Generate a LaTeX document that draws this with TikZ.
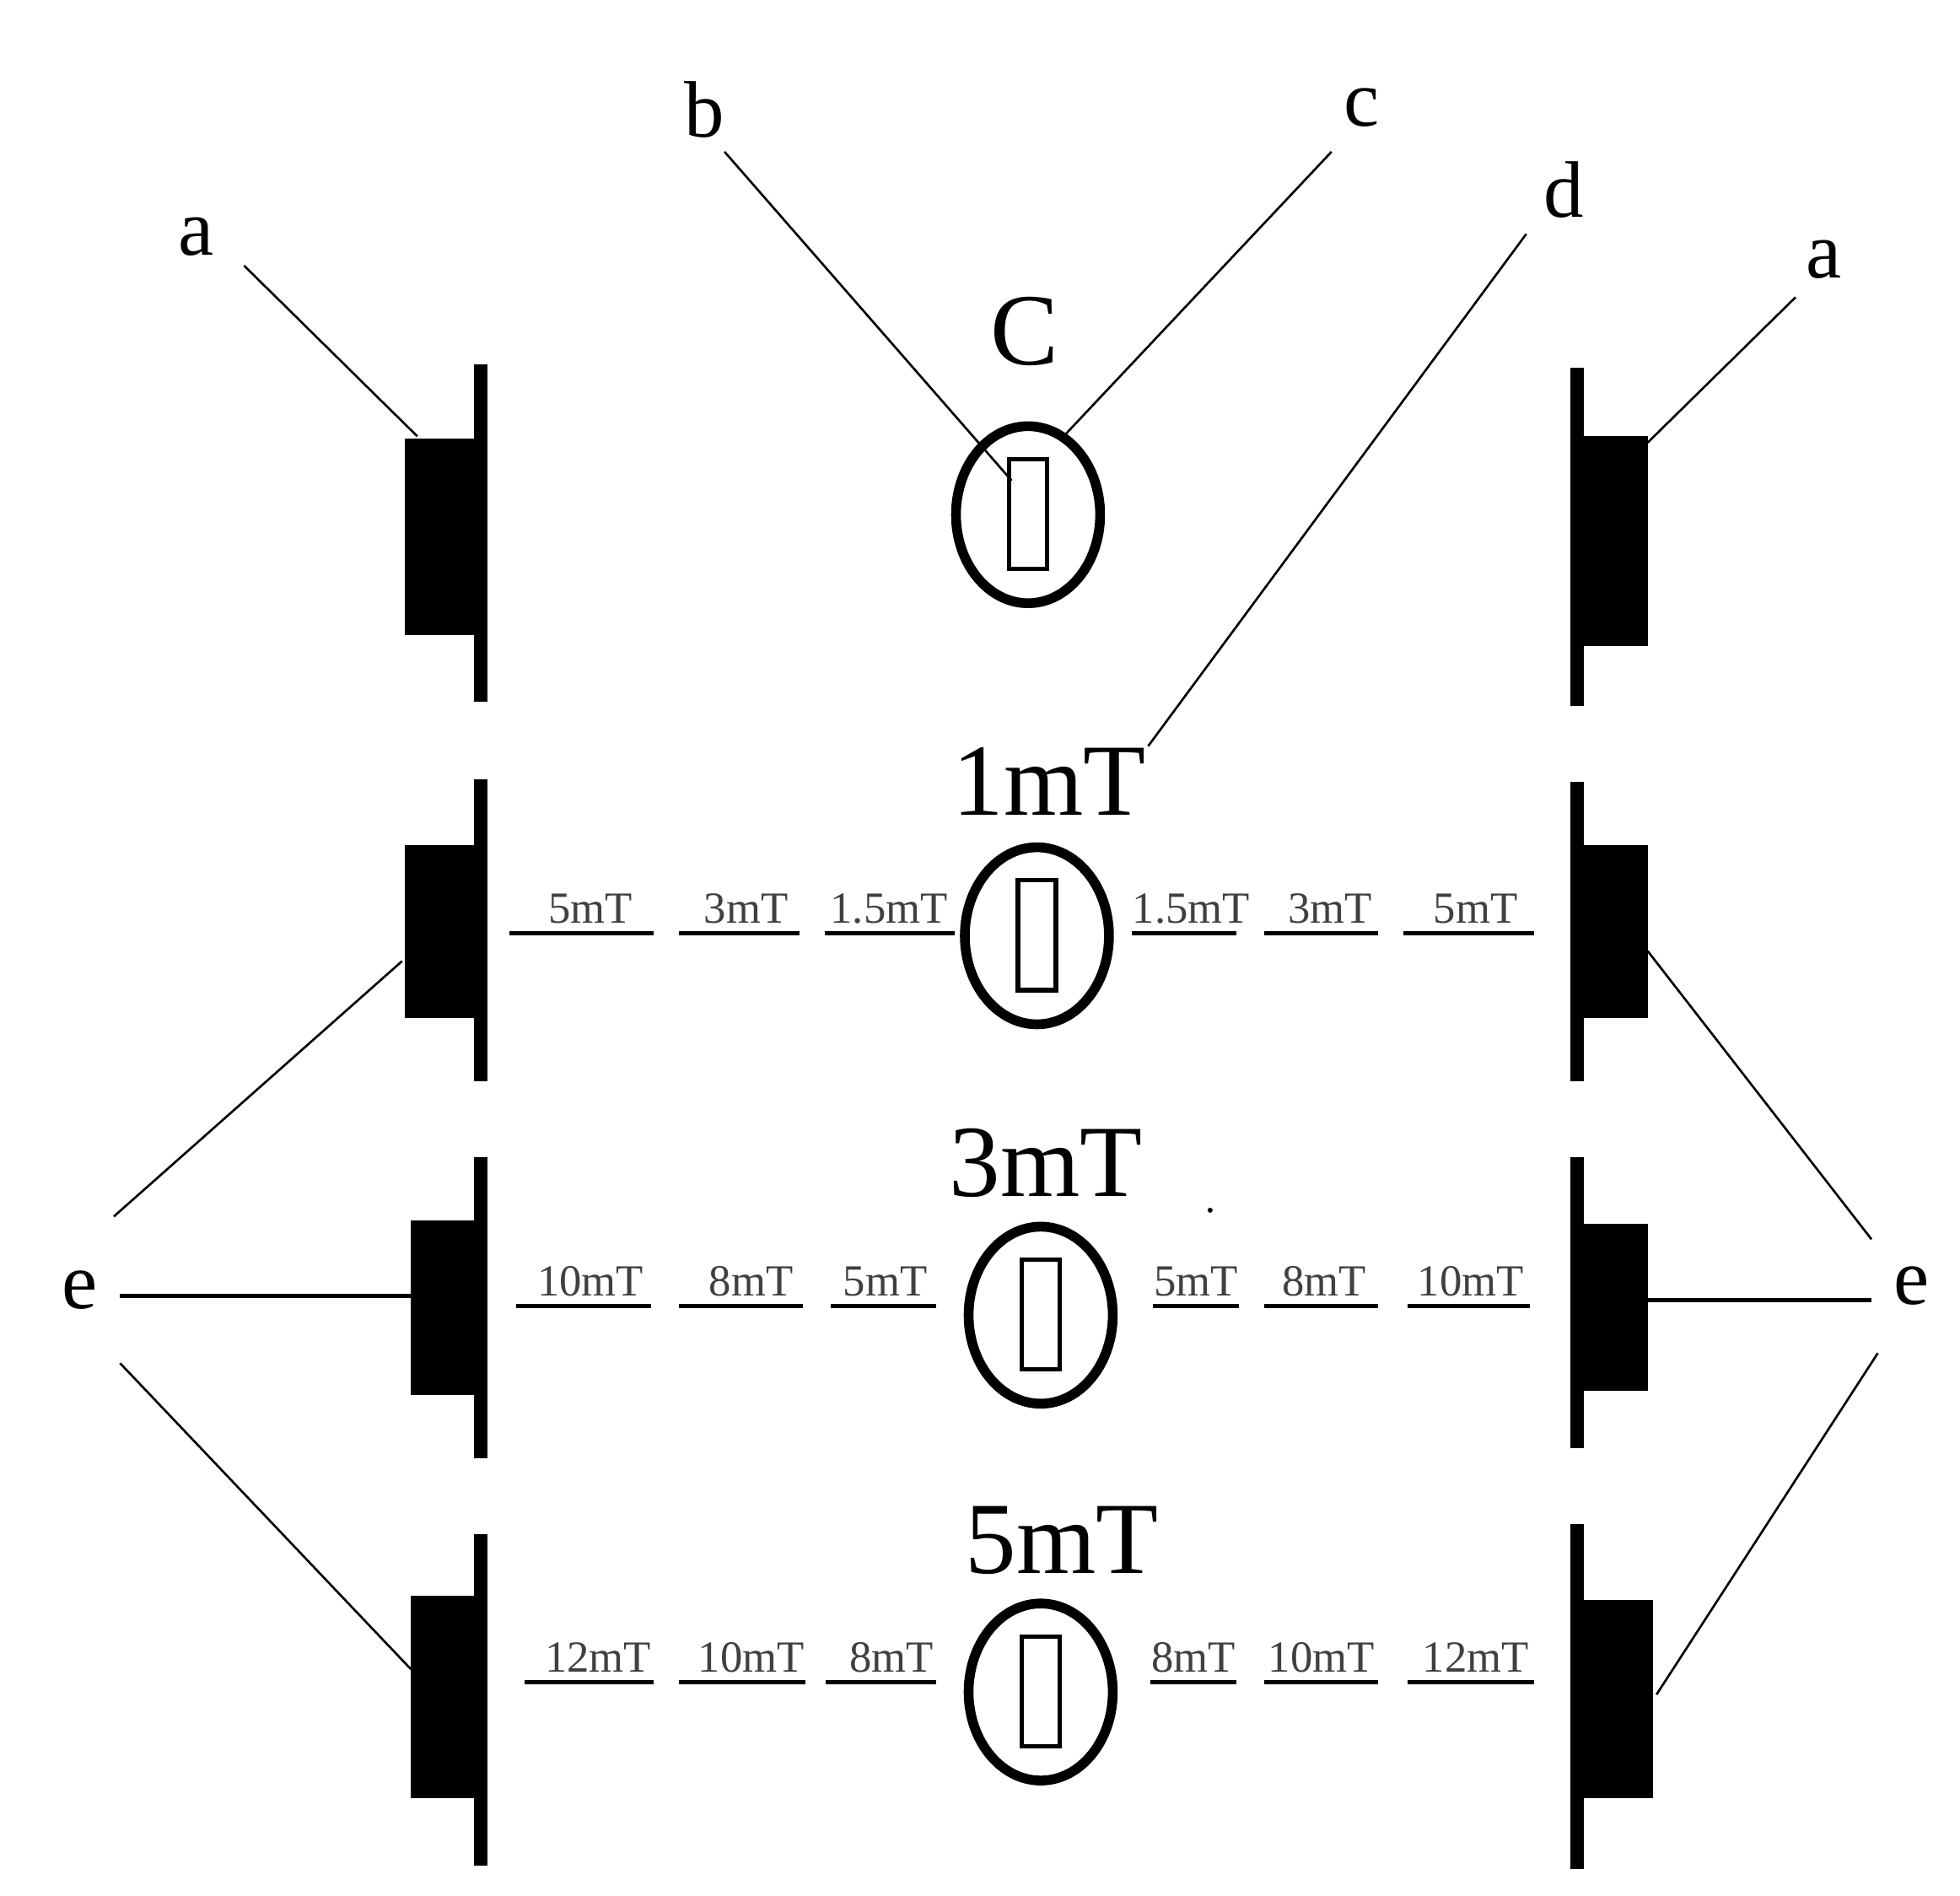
\documentclass[tikz,border=0pt]{standalone}
\usepackage{fontspec}
\setmainfont{Liberation Serif}
\begin{document}
\begin{tikzpicture}[x=0.01cm,y=-0.01cm,
 lbl/.style={font=\fontsize{18}{18}\selectfont,inner sep=1pt},
 big/.style={font=\fontsize{23}{23}\selectfont,inner sep=0pt},
 sm/.style={font=\fontsize{10}{10}\selectfont,inner sep=1pt,text=black!75},
 lead/.style={line width=0.5pt},
 ul/.style={line width=0.9pt},
 bar/.style={line width=3pt},
 cell/.style={ellipse,draw,line width=2.2pt,minimum width=116\pgflinewidth,inner sep=0pt}]
\useasboundingbox (0,0) rectangle (1550,1499);
% magnets
\foreach \n/\ya/\yb/\bx/\by/\bz/\ra/\rb/\cx/\cy/\cz in {0/288/555/320/347/502/291/558/1303/345/511,
  1/616/855/320/668/805/618/855/1303/668/805,
  2/915/1153/325/965/1103/915/1145/1303/968/1100,
  3/1213/1475/325/1262/1422/1205/1478/1307/1265/1422}{
  \fill (\bx,\by) rectangle (380,\bz);
  \draw[bar] (380,\ya) -- (380,\yb);
  \fill (1247,\cy) rectangle (\cx,\cz);
  \draw[bar] (1247,\ra) -- (1247,\rb);
}
% cells
\foreach \n/\x/\y in {0/813/407,1/820/740,2/823/1040,3/823/1338}{
  \draw[line width=2.2pt] (\x,\y) ellipse [x radius=57, y radius=70];
  \draw[line width=1pt] (\x-15,\y-44) rectangle (\x+15,\y+43);
}
% titles
\node[big] (C) at (810,262) {C};
\node[big] (t1) at (830,618) {1mT};
\node[big] (t2) at (827,920) {3mT};
\node[big] (t3) at (840,1218) {5mT};
% letter labels
\node[lbl] (a1) at (155,187) {a};
\node[lbl] (b) at (557,87) {b};
\node[lbl] (c) at (1077,85) {c};
\node[lbl] (d) at (1237,150) {d};
\node[lbl] (a2) at (1442,205) {a};
\node[lbl] (e1) at (63,1020) {e};
\node[lbl] (e2) at (1512,1017) {e};
\coordinate (pa1) at (330,345); \coordinate (pb) at (800,380);
\coordinate (pc) at (843,343); \coordinate (pd) at (908,590);
\coordinate (pa2) at (1303,350);
\draw[lead] (193,210) -- (pa1);
\draw[lead] (573,120) -- (pb);
\draw[lead] (1053,120) -- (pc);
\draw[lead] (1207,185) -- (pd);
\draw[lead] (1420,235) -- (pa2);
\coordinate (l1) at (318,760); \coordinate (l2) at (325,1025); \coordinate (l3) at (325,1320);
\coordinate (r1) at (1303,752); \coordinate (r2) at (1303,1028); \coordinate (r3) at (1310,1340);
\draw[lead] (90,962) -- (l1);
\draw[lead,line width=1pt] (95,1025) -- (l2);
\draw[lead] (95,1078) -- (l3);
\draw[lead] (1480,980) -- (r1);
\draw[lead,line width=1pt] (1480,1028) -- (r2);
\draw[lead] (1485,1070) -- (r3);
% scale labels
\foreach \t/\x/\a/\b/\y in {5mT/467/403/517/738, 3mT/590/537/632/738, 1.5mT/703/652/755/738,
 1.5mT/942/895/978/738, 3mT/1052/1000/1090/738, 5mT/1167/1110/1213/738,
 10mT/467/408/515/1033, 8mT/594/537/635/1033, 5mT/700/657/740/1033,
 5mT/946/912/980/1033, 8mT/1047/1000/1090/1033, 10mT/1163/1113/1210/1033,
 12mT/473/415/517/1330, 10mT/594/537/637/1330, 8mT/705/653/740/1330,
 8mT/944/910/978/1330, 10mT/1045/1000/1090/1330, 12mT/1167/1113/1213/1330}{
  \node[sm,anchor=base] at (\x,\y-8) {\t};
  \draw[ul] (\a,\y) -- (\b,\y);
}
\fill (957,957) circle (2);
\end{tikzpicture}
\end{document}
